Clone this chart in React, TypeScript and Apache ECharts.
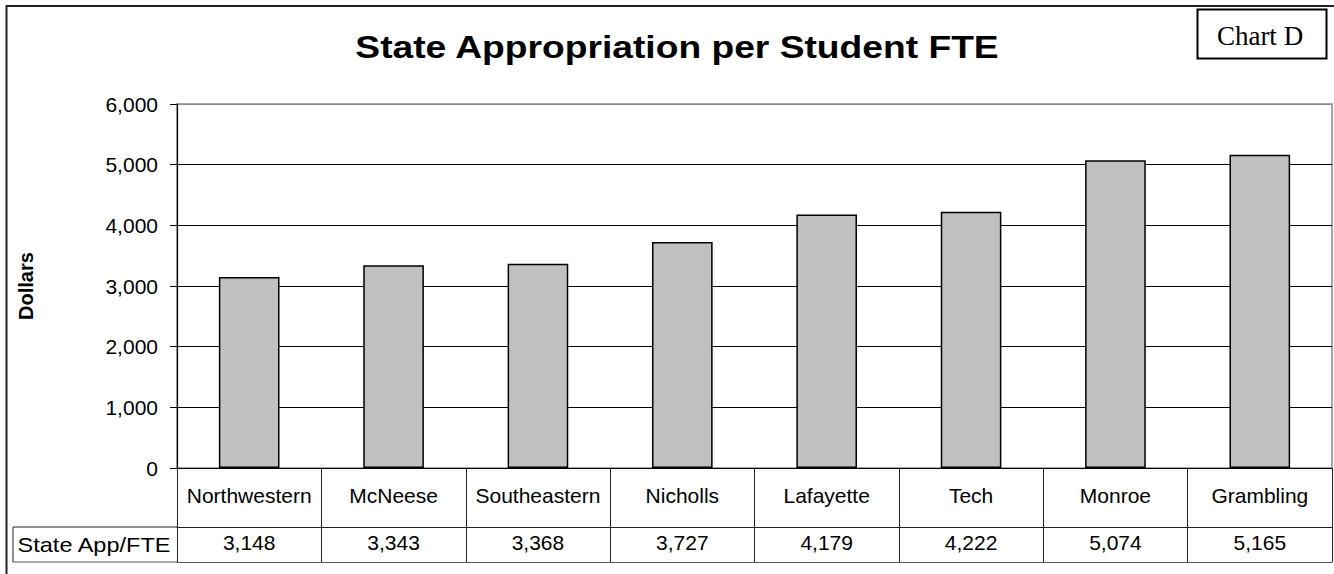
import React, { useEffect, useRef } from "react";
import * as echarts from "echarts";

const titleText = "State Appropriation per Student FTE";
const badgeText = "Chart D";
const yAxisName = "Dollars";
const rowLabel = "State App/FTE";
const categories = ["Northwestern", "McNeese", "Southeastern", "Nicholls", "Lafayette", "Tech", "Monroe", "Grambling"];
const values = [3148, 3343, 3368, 3727, 4179, 4222, 5074, 5165];
const yMin = 0;
const yMax = 6000;
const yStep = 1000;

const fmt = (v: number) => v.toLocaleString("en-US");

export default function App() {
  const ref = useRef<HTMLDivElement>(null);
  useEffect(() => {
    document.body.style.margin = "0";
    if (!ref.current) return;
    const chart = echarts.init(ref.current, undefined, { renderer: "svg" });
    const font = "Arial, 'Liberation Sans', sans-serif";
    const gridLeft = 177;
    const gridRight = 2;
    const gridTop = 104;
    const gridBottom = 106;
    const plotBottom = 574 - gridBottom;
    chart.setOption({
      animation: false,
      backgroundColor: "#ffffff",
      textStyle: { fontFamily: font, color: "#000" },
      grid: {
        left: gridLeft,
        right: gridRight,
        top: gridTop,
        bottom: gridBottom,
        show: true,
        borderColor: "#8a8a8a",
        borderWidth: 1.5,
        backgroundColor: "#ffffff",
      },
      xAxis: [
        {
          type: "category",
          data: categories,
          position: "bottom",
          axisLine: { show: true, lineStyle: { color: "#000", width: 1.2 } },
          axisTick: { show: true, interval: 0, length: 94, inside: false, lineStyle: { color: "#222", width: 1 } },
          axisLabel: { interval: 0, margin: 17, fontSize: 21, color: "#000", fontFamily: font },
          splitLine: { show: false },
        },
        {
          type: "category",
          data: values.map(fmt),
          position: "bottom",
          offset: 59,
          axisLine: { show: true, lineStyle: { color: "#222", width: 1 } },
          axisTick: { show: false },
          axisLabel: { interval: 0, margin: 5, fontSize: 21, color: "#000", fontFamily: font },
        },
        {
          type: "category",
          data: values.map(fmt),
          position: "bottom",
          offset: 94,
          axisLine: { show: true, lineStyle: { color: "#555", width: 1 } },
          axisTick: { show: false },
          axisLabel: { show: false },
        },
      ],
      yAxis: {
        type: "value",
        min: yMin,
        max: yMax,
        interval: yStep,
        name: yAxisName,
        nameLocation: "middle",
        nameRotate: 90,
        nameGap: 141,
        nameTextStyle: { fontSize: 20, fontWeight: "bold", color: "#000", fontFamily: font },
        axisLine: { show: true, lineStyle: { color: "#000", width: 1.2 } },
        axisTick: { show: true, length: 7, lineStyle: { color: "#000" } },
        axisLabel: { margin: 19, fontSize: 21, color: "#000", fontFamily: font, formatter: (v: number) => fmt(v) },
        splitLine: {
          show: true,
          lineStyle: { color: ["#000", "#000", "#000", "#000", "#000", "#000", "#8a8a8a"], width: 1 },
        },
      },
      series: [
        {
          type: "bar",
          data: values,
          xAxisIndex: 0,
          barWidth: "42%",
          itemStyle: { color: "#c0c0c0", borderColor: "#000", borderWidth: 1.5 },
        },
      ],
      graphic: [
        {
          type: "rect",
          shape: { x: 6.5, y: 6, width: 1400, height: 700 },
          style: { fill: "none", stroke: "#222", lineWidth: 2 },
          silent: true,
          z: -1,
        },
        {
          type: "text",
          x: 677,
          y: 47.5,
          scaleX: 1.2,
          style: {
            text: titleText,
            fontSize: 31,
            fontWeight: "bold",
            fontFamily: font,
            fill: "#000",
            textAlign: "center",
            textVerticalAlign: "middle",
          },
        },
        {
          type: "rect",
          shape: { x: 1197.5, y: 9.5, width: 129, height: 49 },
          style: { fill: "#fff", stroke: "#000", lineWidth: 2 },
        },
        {
          type: "text",
          x: 1260,
          y: 35.5,
          style: {
            text: badgeText,
            fontSize: 27,
            fontFamily: "'Times New Roman', 'Liberation Serif', serif",
            fill: "#000",
            textAlign: "center",
            textVerticalAlign: "middle",
          },
        },
        {
          type: "line",
          shape: { x1: 13, y1: plotBottom + 59, x2: gridLeft, y2: plotBottom + 59 },
          style: { stroke: "#222", lineWidth: 1 },
        },
        {
          type: "line",
          shape: { x1: 13, y1: plotBottom + 94, x2: gridLeft, y2: plotBottom + 94 },
          style: { stroke: "#555", lineWidth: 1 },
        },
        {
          type: "line",
          shape: { x1: 13, y1: plotBottom + 59, x2: 13, y2: plotBottom + 94 },
          style: { stroke: "#222", lineWidth: 1 },
        },
        {
          type: "text",
          x: 94,
          y: plotBottom + 77,
          scaleX: 1.12,
          style: {
            text: rowLabel,
            fontSize: 21,
            fontFamily: font,
            fill: "#000",
            textAlign: "center",
            textVerticalAlign: "middle",
          },
        },
      ],
    });
    return () => chart.dispose();
  }, []);
  return <div ref={ref} style={{ width: 1334, height: 574 }} />;
}
